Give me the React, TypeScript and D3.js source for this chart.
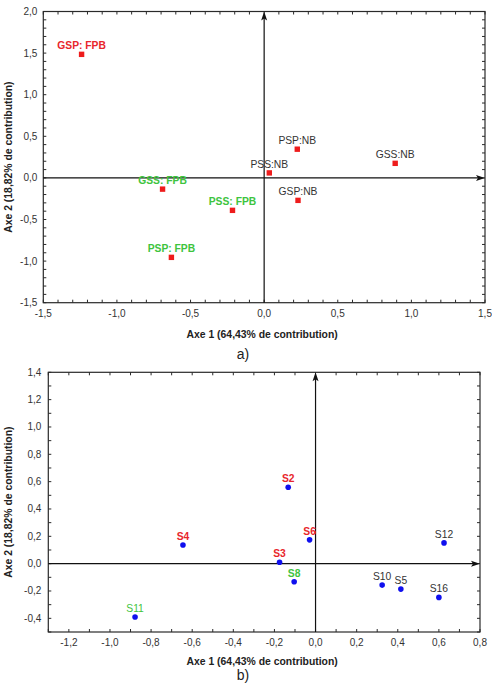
import * as d3 from "d3";
import { useEffect, useRef } from "react";

// a) modalities (axe 1 / axe 2 coordinates)
const topLabels = ["GSP: FPB", "GSS: FPB", "PSS: FPB", "PSP: FPB", "PSP:NB", "PSS:NB", "GSS:NB", "GSP:NB"];
const topAxe1 = [-1.24, -0.69, -0.215, -0.63, 0.225, 0.035, 0.89, 0.23];
const topAxe2 = [1.485, -0.135, -0.39, -0.955, 0.345, 0.06, 0.175, -0.27];
const topGroups = ["rouge", "vert", "vert", "vert", "gris", "gris", "gris", "gris"];
const topXTicks = [-1.5, -1.0, -0.5, 0.0, 0.5, 1.0, 1.5];
const topYTicks = [-1.5, -1.0, -0.5, 0.0, 0.5, 1.0, 1.5, 2.0];

// b) samples
const botLabels = ["S2", "S4", "S11", "S6", "S3", "S8", "S10", "S5", "S16", "S12"];
const botAxe1 = [-0.133, -0.645, -0.878, -0.029, -0.175, -0.104, 0.324, 0.415, 0.6, 0.625];
const botAxe2 = [0.559, 0.137, -0.39, 0.174, 0.01, -0.132, -0.157, -0.186, -0.247, 0.152];
const botGroups = ["rouge", "rouge", "vert-fin", "rouge", "rouge", "vert", "gris", "gris", "gris", "gris"];
const botXTicks = [-1.2, -1.0, -0.8, -0.6, -0.4, -0.2, 0.0, 0.2, 0.4, 0.6, 0.8];
const botYTicks = [-0.4, -0.2, 0.0, 0.2, 0.4, 0.6, 0.8, 1.0, 1.2, 1.4];

const labelStyle: Record<string, { fill: string; weight: string }> = {
  rouge: { fill: "#e8262c", weight: "bold" },
  vert: { fill: "#3ec43e", weight: "bold" },
  "vert-fin": { fill: "#3ec43e", weight: "normal" },
  gris: { fill: "#333", weight: "normal" },
};

const fmt = d3
  .formatLocale({ decimal: ",", thousands: ".", grouping: [3], currency: ["", ""], minus: "-" })
  .format(".1f");

const FONT = "'Liberation Sans', Arial, Helvetica, sans-serif";

interface Panel {
  box: { left: number; right: number; top: number; bottom: number };
  xDomain: [number, number];
  yDomain: [number, number];
  xTicks: number[];
  yTicks: number[];
  labels: string[];
  xs: number[];
  ys: number[];
  groups: string[];
  marker: "square" | "circle";
  tag: string;
  tagY: number;
  titleY: number;
  yLabelGap: number;
}

const drawPanel = (svg: d3.Selection<SVGSVGElement, unknown, null, undefined>, p: Panel) => {
  const { left, right, top, bottom } = p.box;
  const x = d3.scaleLinear().domain(p.xDomain).range([left, right]);
  const y = d3.scaleLinear().domain(p.yDomain).range([bottom, top]);
  const g = svg.append("g");
  const ink = "#2a2a2a";

  // frame
  g.append("rect")
    .attr("x", left)
    .attr("y", top)
    .attr("width", right - left)
    .attr("height", bottom - top)
    .attr("fill", "none")
    .attr("stroke", ink)
    .attr("stroke-width", 1.2);

  // minor ticks every 0.1, inward on all four sides
  const minor = (d: [number, number]) =>
    d3.range(Math.round(d[0] * 10), Math.round(d[1] * 10) + 1).map((i) => i / 10);
  const tl = 3;
  minor(p.xDomain).forEach((v) => {
    g.append("line").attr("x1", x(v)).attr("x2", x(v)).attr("y1", bottom).attr("y2", bottom - tl).attr("stroke", ink);
    g.append("line").attr("x1", x(v)).attr("x2", x(v)).attr("y1", top).attr("y2", top + tl).attr("stroke", ink);
  });
  minor(p.yDomain).forEach((v) => {
    g.append("line").attr("y1", y(v)).attr("y2", y(v)).attr("x1", left).attr("x2", left + tl).attr("stroke", ink);
    g.append("line").attr("y1", y(v)).attr("y2", y(v)).attr("x1", right).attr("x2", right - tl).attr("stroke", ink);
  });

  // tick labels
  g.selectAll(".xt")
    .data(p.xTicks)
    .enter()
    .append("text")
    .attr("x", (d) => x(d))
    .attr("y", bottom + 14)
    .attr("text-anchor", "middle")
    .attr("font-family", FONT)
    .attr("font-size", 10)
    .attr("fill", "#333")
    .text((d) => fmt(d));

  g.selectAll(".yt")
    .data(p.yTicks)
    .enter()
    .append("text")
    .attr("x", left - p.yLabelGap)
    .attr("y", (d) => y(d) + 3.5)
    .attr("text-anchor", "end")
    .attr("font-family", FONT)
    .attr("font-size", 10)
    .attr("fill", "#333")
    .text((d) => fmt(d));

  // axes through origin with arrowheads
  const x0 = x(0);
  const y0 = y(0);
  g.append("line").attr("x1", left).attr("x2", right - 6).attr("y1", y0).attr("y2", y0).attr("stroke", "#111").attr("stroke-width", 1.2);
  g.append("line").attr("x1", x0).attr("x2", x0).attr("y1", bottom).attr("y2", top + 6).attr("stroke", "#111").attr("stroke-width", 1.2);
  g.append("path")
    .attr("d", `M${right},${y0} L${right - 9},${y0 - 3} L${right - 7},${y0} L${right - 9},${y0 + 3} Z`)
    .attr("fill", "#111");
  g.append("path")
    .attr("d", `M${x0},${top} L${x0 - 3},${top + 9} L${x0},${top + 7} L${x0 + 3},${top + 9} Z`)
    .attr("fill", "#111");

  // points
  const idx = d3.range(p.labels.length);
  if (p.marker === "square") {
    g.selectAll(".pt")
      .data(idx)
      .enter()
      .append("rect")
      .attr("x", (i) => x(p.xs[i]) - 2.7)
      .attr("y", (i) => y(p.ys[i]) - 2.7)
      .attr("width", 5.4)
      .attr("height", 5.4)
      .attr("fill", "#ee1c1c");
  } else {
    g.selectAll(".pt")
      .data(idx)
      .enter()
      .append("circle")
      .attr("cx", (i) => x(p.xs[i]))
      .attr("cy", (i) => y(p.ys[i]))
      .attr("r", 2.8)
      .attr("fill", "#1010ee");
  }

  g.selectAll(".lbl")
    .data(idx)
    .enter()
    .append("text")
    .attr("x", (i) => x(p.xs[i]))
    .attr("y", (i) => y(p.ys[i]) - 5)
    .attr("text-anchor", "middle")
    .attr("font-family", FONT)
    .attr("font-size", 10.3)
    .attr("font-weight", (i) => labelStyle[p.groups[i]].weight)
    .attr("fill", (i) => labelStyle[p.groups[i]].fill)
    .text((i) => p.labels[i]);

  // axis titles
  g.append("text")
    .attr("x", (left + right) / 2 - 2)
    .attr("y", p.titleY)
    .attr("text-anchor", "middle")
    .attr("font-family", FONT)
    .attr("font-size", 10.4)
    .attr("font-weight", "bold")
    .attr("fill", "#222")
    .text("Axe 1 (64,43% de contribution)");

  g.append("text")
    .attr("transform", `translate(12,${(top + bottom) / 2}) rotate(-90)`)
    .attr("text-anchor", "middle")
    .attr("font-family", FONT)
    .attr("font-size", 10.4)
    .attr("font-weight", "bold")
    .attr("fill", "#222")
    .text("Axe 2 (18,82% de contribution)");

  g.append("text")
    .attr("x", 243)
    .attr("y", p.tagY)
    .attr("text-anchor", "middle")
    .attr("font-family", FONT)
    .attr("font-size", 14)
    .attr("fill", "#222")
    .text(p.tag);
};

export default function App() {
  const svgRef = useRef<SVGSVGElement>(null);

  useEffect(() => {
    if (!svgRef.current) return;
    const svg = d3.select(svgRef.current);
    svg.selectAll("*").remove();

    drawPanel(svg, {
      box: { left: 43.3, right: 485, top: 11.5, bottom: 302.7 },
      xDomain: [-1.5, 1.5],
      yDomain: [-1.5, 2.0],
      xTicks: topXTicks,
      yTicks: topYTicks,
      labels: topLabels,
      xs: topAxe1,
      ys: topAxe2,
      groups: topGroups,
      marker: "square",
      tag: "a)",
      tagY: 359,
      titleY: 338,
      yLabelGap: 6,
    });

    drawPanel(svg, {
      box: { left: 48.3, right: 480, top: 372.3, bottom: 632 },
      xDomain: [-1.3, 0.8],
      yDomain: [-0.5, 1.4],
      xTicks: botXTicks,
      yTicks: botYTicks,
      labels: botLabels,
      xs: botAxe1,
      ys: botAxe2,
      groups: botGroups,
      marker: "circle",
      tag: "b)",
      tagY: 680,
      titleY: 665,
      yLabelGap: 7,
    });
  }, []);

  return (
    <svg
      ref={svgRef}
      width={492}
      height={684}
      style={{ position: "absolute", left: 0, top: 0, background: "#fff" }}
    />
  );
}
